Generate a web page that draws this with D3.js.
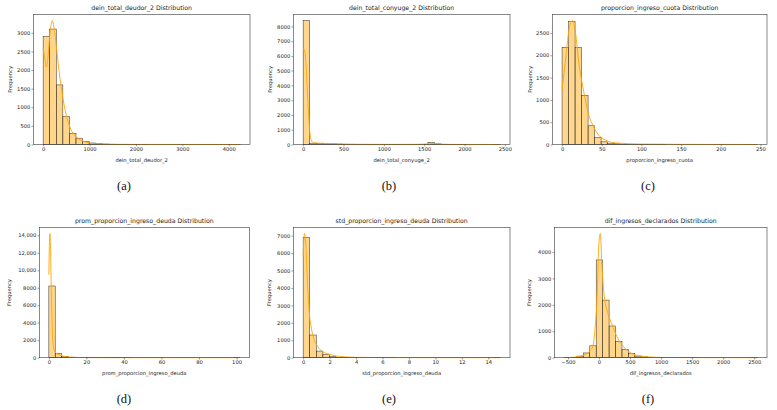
<!DOCTYPE html>
<html><head><meta charset="utf-8">
<script src="https://cdn.jsdelivr.net/npm/d3@7"></script>
<style>body{margin:0;background:#fff}svg{display:block}</style>
</head><body><svg id="c" width="777" height="410"></svg>
<script>
// ---------- DATA ----------
const titles = ["dein_total_deudor_2","dein_total_conyuge_2","proporcion_ingreso_cuota",
  "prom_proporcion_ingreso_deuda","std_proporcion_ingreso_deuda","dif_ingresos_declarados"];
const captions = ["(a)","(b)","(c)","(d)","(e)","(f)"];

// data range [min,max] of each variable (30 bins between them)
const rangeA = [0, 4246];
const rangeB = [0, 2442];
const rangeC = [0, 246];
const rangeD = [0, 101.7];
const rangeE = [0, 14.9];
const rangeF = [-564, 2550];

const countsA = [2900,3100,1600,750,300,170,80,40,20,12,8,5,3,2,1,1,0,0,0,0,0,0,0,0,0,0,0,0,0,1];
const countsB = [8400,90,60,50,40,30,20,15,10,8,6,5,4,3,3,2,2,3,10,150,40,5,2,1,1,0,0,0,0,1];
const countsC = [2180,2760,2180,1100,420,160,60,30,15,8,5,3,2,2,1,1,0,0,0,0,0,0,0,0,0,0,0,0,0,1];
const countsD = [8200,500,150,60,25,12,6,4,3,2,1,1,1,0,0,0,0,0,0,0,0,0,0,0,0,0,0,0,0,1];
const countsE = [6900,1300,380,200,60,25,12,8,5,3,2,1,1,1,0,0,0,0,0,0,0,0,0,0,0,0,0,0,0,1];
const countsF = [5,15,60,180,450,3700,2180,1200,620,320,160,60,30,12,6,4,3,2,1,1,1,0,0,0,0,0,0,0,0,1];

// KDE curves: [x, count-scaled density]
const kdeA = [[0,2600],[30,2350],[70,2080],[100,2300],[150,3000],[195,3330],[250,3000],[300,2450],[350,1900],[400,1450],[450,1080],[500,780],[550,560],[600,400],[700,220],[800,120],[900,70],[1000,40],[1200,15],[1500,6],[2000,2],[3000,1],[4246,0]];
const kdeB = [[0,6500],[20,6300],[40,5000],[60,2800],[80,1000],[100,300],[130,120],[200,90],[300,70],[400,50],[500,30],[700,15],[1000,8],[1400,10],[1550,40],[1620,60],[1700,30],[1800,8],[2000,3],[2442,0]];
const kdeC = [[0,1230],[5,2000],[9,2600],[13,2780],[17,2500],[21,1850],[25,1400],[29.4,1000],[33,700],[37.8,470],[42,320],[46.2,210],[55,97],[67,37],[100,10],[150,3],[246,0]];
const kdeD = [[0,9500],[0.3,13000],[0.6,14200],[0.9,12500],[1.2,9000],[1.6,5000],[2.0,2500],[2.5,1200],[3,800],[4,500],[5,380],[6,300],[8,150],[10,80],[15,30],[20,12],[30,4],[50,1],[101.7,0]];
const kdeE = [[0,5800],[0.1,7120],[0.2,6500],[0.3,4800],[0.4,3300],[0.48,2450],[0.6,1800],[0.73,1300],[0.9,900],[1.11,630],[1.3,450],[1.49,340],[2.0,190],[2.5,100],[3.0,57],[4,20],[6,6],[10,2],[14.9,0]];
const kdeF = [[-564,0],[-400,20],[-300,60],[-200,150],[-150,250],[-100,420],[-60,1200],[-32,2200],[-5,4190],[21,4700],[48,3460],[86,2300],[129,1800],[209,1270],[290,790],[397,415],[504,190],[638,75],[826,25],[1000,10],[1500,3],[2550,0]];

const xTicksA = [0,1000,2000,3000,4000], yTicksA = [0,500,1000,1500,2000,2500,3000];
const xTicksB = [0,500,1000,1500,2000,2500], yTicksB = [0,1000,2000,3000,4000,5000,6000,7000,8000];
const xTicksC = [0,50,100,150,200,250], yTicksC = [0,500,1000,1500,2000,2500];
const xTicksD = [0,20,40,60,80,100], yTicksD = [0,2000,4000,6000,8000,10000,12000,14000];
const yTickLabelsD = ["0","2000","4000","6000","8000","10,000","12,000","14,000"];
const xTicksE = [0,2,4,6,8,10,12,14], yTicksE = [0,1000,2000,3000,4000,5000,6000,7000];
const xTicksF = [-500,0,500,1000,1500,2000,2500], yTicksF = [0,1000,2000,3000,4000];

// ---------- LAYOUT ----------
const panels = [
  {range:rangeA, counts:countsA, kde:kdeA, xt:xTicksA, yt:yTicksA, l:33.3, r:250, t:14.3, b:144.5, ylx:10, cx:124},
  {range:rangeB, counts:countsB, kde:kdeB, xt:xTicksB, yt:yTicksB, l:293.3, r:510, t:14.3, b:144.5, ylx:270, cx:389},
  {range:rangeC, counts:countsC, kde:kdeC, xt:xTicksC, yt:yTicksC, l:552.3, r:767, t:14.3, b:144.5, ylx:529.7, cx:648},
  {range:rangeD, counts:countsD, kde:kdeD, xt:xTicksD, yt:yTicksD, ytl:yTickLabelsD, l:39.3, r:249.3, t:227.3, b:357.7, ylx:9.3, cx:124},
  {range:rangeE, counts:countsE, kde:kdeE, xt:xTicksE, yt:yTicksE, l:293.3, r:510, t:227.3, b:357.7, ylx:269.3, cx:389},
  {range:rangeF, counts:countsF, kde:kdeF, xt:xTicksF, yt:yTicksF, l:554.3, r:767, t:227.3, b:357.7, ylx:528.7, cx:648}
];

const svg = d3.select("#c");
const FONT = "DejaVu Sans, sans-serif";
const tickFs = 5.2, titleFs = 6.2;

panels.forEach((p, i) => {
  const [mn, mx] = p.range;
  const R = mx - mn;
  const nb = p.counts.length;
  const bw = R / nb;
  const x = d3.scaleLinear().domain([mn - 0.05*R, mx + 0.05*R]).range([p.l, p.r]);
  const ymax = Math.max(d3.max(p.counts), d3.max(p.kde, d => d[1]));
  const y = d3.scaleLinear().domain([0, ymax*1.05]).range([p.b, p.t]);
  const g = svg.append("g");

  // bars
  g.selectAll("rect.bar").data(p.counts).join("rect")
    .attr("x", (d, k) => x(mn + k*bw))
    .attr("width", (d, k) => x(mn + (k+1)*bw) - x(mn + k*bw))
    .attr("y", d => y(d))
    .attr("height", d => y(0) - y(d))
    .attr("fill", "#ffa500").attr("fill-opacity", 0.45)
    .attr("stroke", "#2a2a2a").attr("stroke-width", 0.5);

  // kde
  const line = d3.line().x(d => x(d[0])).y(d => y(d[1])).curve(d3.curveMonotoneX);
  g.append("path").datum(p.kde).attr("d", line)
    .attr("fill", "none").attr("stroke", "#ffa500").attr("stroke-width", 1).attr("stroke-opacity", 0.9);

  // frame
  g.append("rect").attr("x", p.l).attr("y", p.t).attr("width", p.r - p.l).attr("height", p.b - p.t)
    .attr("fill", "none").attr("stroke", "#3a3a3a").attr("stroke-width", 0.6);

  // axes
  const xa = g.append("g").attr("transform", `translate(0,${p.b})`)
    .call(d3.axisBottom(x).tickValues(p.xt).tickSize(1.8).tickPadding(1.2).tickFormat(d3.format("d")));
  const ya = g.append("g").attr("transform", `translate(${p.l},0)`)
    .call(d3.axisLeft(y).tickValues(p.yt).tickSize(1.8).tickPadding(1.2)
      .tickFormat((d, k) => p.ytl ? p.ytl[k] : d3.format("d")(d)));
  [xa, ya].forEach(a => {
    a.select(".domain").remove();
    a.selectAll("line").attr("stroke", "#3a3a3a").attr("stroke-width", 0.5);
    a.selectAll("text").attr("font-family", FONT).attr("font-size", tickFs).attr("fill", "#222");
  });

  // title
  g.append("text").attr("x", (p.l + p.r)/2).attr("y", p.t - 4)
    .attr("text-anchor", "middle").attr("font-family", FONT).attr("font-size", titleFs).attr("fill", "#222")
    .text(titles[i] + " Distribution");
  // x label
  g.append("text").attr("x", (p.l + p.r)/2).attr("y", p.b + 17.5)
    .attr("text-anchor", "middle").attr("font-family", FONT).attr("font-size", tickFs).attr("fill", "#222")
    .text(titles[i]);
  // y label
  g.append("text").attr("transform", `translate(${p.ylx + 1.8},${(p.t + p.b)/2}) rotate(-90)`)
    .attr("text-anchor", "middle").attr("font-family", FONT).attr("font-size", tickFs).attr("fill", "#222")
    .text("Frequency");
  // caption
  g.append("text").attr("x", p.cx).attr("y", p.b + 45)
    .attr("text-anchor", "middle").attr("font-family", "Liberation Serif, serif").attr("font-size", 12.5).attr("fill", "#111")
    .text(captions[i]);
});
</script></body></html>
